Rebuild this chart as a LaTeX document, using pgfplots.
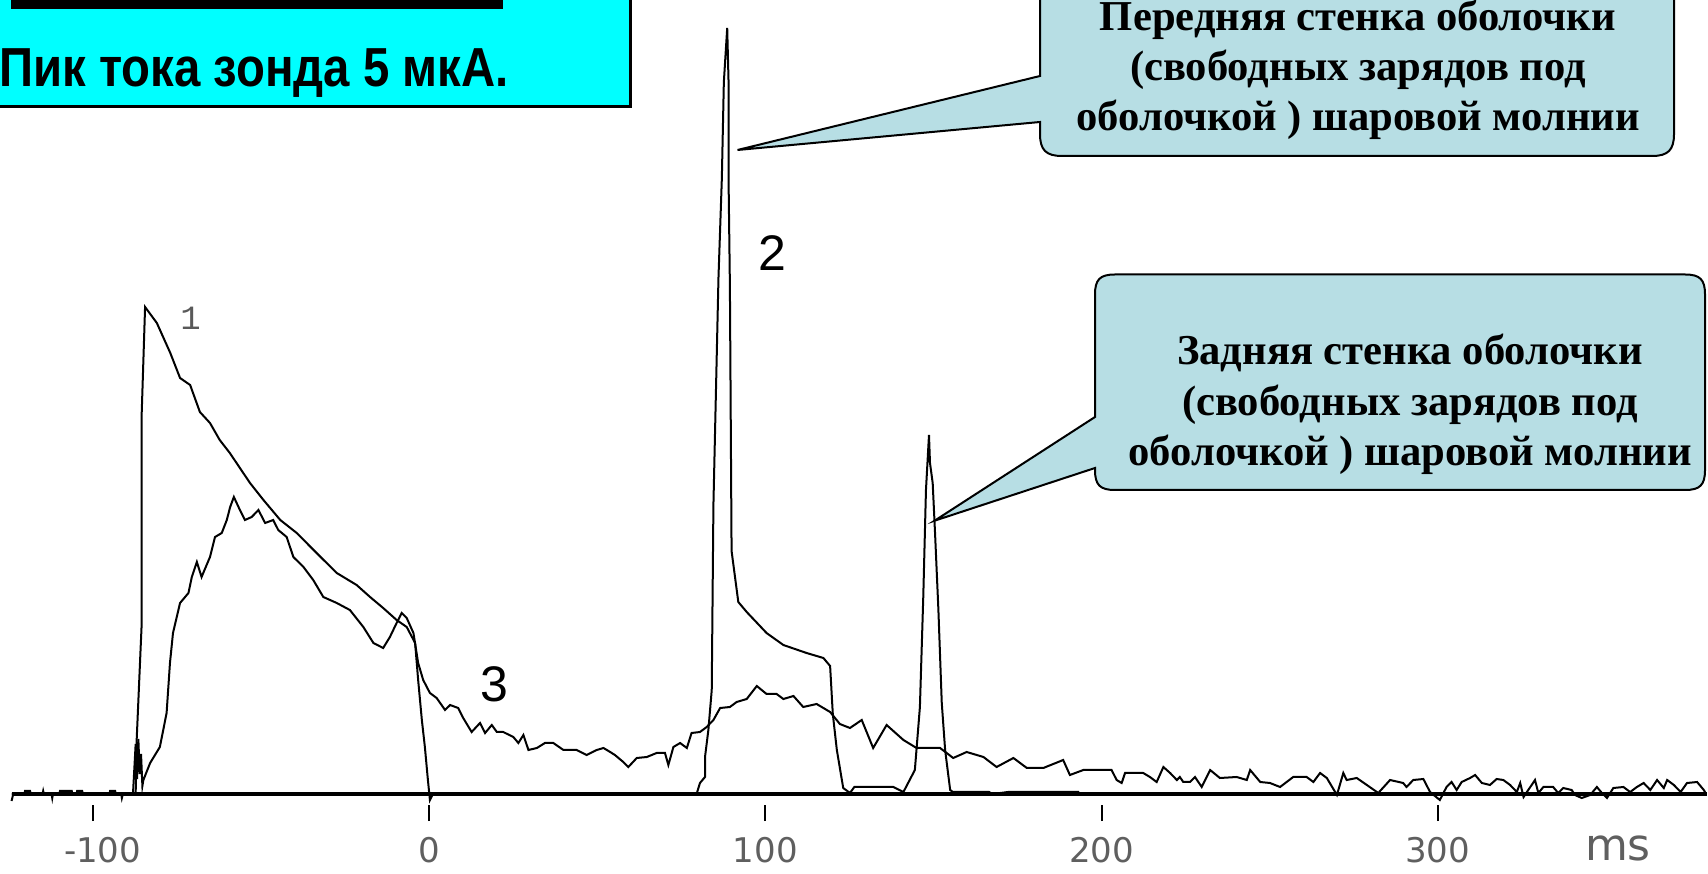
\documentclass[border=0pt]{standalone}
\usepackage{fontspec}
\setmainfont{Liberation Serif}
\newfontfamily\sansfont{Liberation Sans}
\newfontfamily\tickfont{DejaVu Sans}
\newfontfamily\scopefont{Liberation Mono}
\usepackage{pgfplots}
\pgfplotsset{compat=1.18}
\definecolor{calloutfill}{RGB}{183,222,228}
\definecolor{titlecyan}{RGB}{0,255,255}
\definecolor{tickgray}{RGB}{95,95,95}
\begin{document}
\begin{tikzpicture}
\begin{axis}[
  scale only axis, width=854pt, height=436.5pt,
  xmin=-127.54, xmax=380.35, ymin=-79, ymax=794,
  axis x line=middle, axis y line=none,
  x axis line style={draw=none},
  axis x line shift=5.5pt,
  hide obscured x ticks=false,
  xtick={-100,0,100,200,300},
  xticklabels={{\hspace*{10pt}-100},0,100,200,300},
  tick align=outside,
  major tick length=8pt,
  xtick style={black, line width=1pt},
  xticklabel style={font=\tickfont\fontsize{17pt}{20pt}\selectfont, text=tickgray, anchor=center, yshift=-14.5pt},
  ytick=\empty,
  clip=false,
]
% zero line
\addplot[black, line width=1.6pt] coordinates {(-124,0) (380,0)};
% trace 1
\addplot[black, line width=1pt] coordinates {
(-124,0) (-87.2,0) (-86.9,54) (-85.4,171) (-85.4,381) (-84.4,487) (-80.9,471) (-76.9,441) (-74.0,416) (-71.0,409) (-68.1,382) (-65.1,371) (-62.2,354) (-59.2,341) (-55.2,321) (-53.2,311) (-49.2,294) (-44.2,274) (-39.3,261) (-33.4,241) (-27.4,221) (-21.5,209) (-17.5,197) (-13.6,186) (-9.6,174) (-6.6,167) (-4.1,151) (-3.2,114) (-2.1,74) (-1.2,47) (-0.3,14) (0.3,-6) (1.2,0) (380,0)
};
% trace 2
\addplot[black, line width=1pt] coordinates {
(-124,0) (79.6,0) (80.6,11) (82.1,17) (82.1,37) (83.1,64) (84.1,104) (84.6,289) (86.1,516) (87.1,615) (87.7,712) (88.7,766) (89.1,712) (89.1,615) (89.5,508) (90.0,243) (92.0,192) (94.5,182) (100.4,161) (105.4,149) (112.3,141) (117.3,136) (119.3,128) (120.1,80) (121.3,44) (123.2,6) (125.2,1) (126.5,7) (138.1,7) (141.1,2) (144.5,24) (146.0,87) (147.0,197) (147.8,304) (148.7,359) (149.0,331) (149.8,311) (150.5,261) (151.5,184) (152.5,91) (153.5,44) (155.0,4) (155.8,2) (166.6,2) (167.5,0) (172.2,2) (193.1,2) (193.6,0) (380,0)
};
% trace 3
\addplot[black, line width=1pt] coordinates {
(-124.1,-7) (-123.6,0) (-120.3,0) (-120.1,3) (-118.6,3) (-118.4,0) (-114.9,0) (-114.7,3) (-114.5,0) (-112.2,0) (-112,-4) (-111.8,0) (-109.9,0) (-109.7,3) (-106.2,3) (-106,0) (-104.8,0) (-104.6,3) (-103.1,3) (-102.9,0) (-95,0) (-94.8,3) (-93.3,3) (-93.1,0) (-91.5,0) (-91.3,-4) (-91,0) (-88,0)
(-87.6,25) (-87.2,50) (-86.8,15) (-86.4,55) (-86,20) (-85.6,40) (-85.2,8) (-84.9,14)
(-82.9,31) (-80.0,47) (-78.0,81) (-77.0,131) (-76.1,161) (-74.0,191) (-71.5,201) (-70.5,217) (-69.0,232) (-67.6,217) (-65.1,237) (-63.6,257) (-61.6,261) (-60.1,274) (-59.1,287) (-58.0,297) (-56.2,284) (-54.7,274) (-52.7,277) (-50.7,284) (-48.7,271) (-46.3,274) (-44.8,264) (-42.3,257) (-40.3,237) (-37.3,227) (-34.4,214) (-31.4,197) (-27.4,191) (-23.5,184) (-19.5,167) (-16.5,151) (-13.6,146) (-11.6,157) (-9.6,171) (-8.1,181) (-6.6,176) (-4.6,161) (-3.2,131) (-1.7,114) (0.3,101)
(2.3,96) (4.8,84) (6.3,89) (8.7,86) (10.2,76) (12.7,62) (15.2,71) (16.7,61) (18.7,69) (20.2,62) (22.1,62) (25.1,57) (26.6,51) (28.1,59) (29.6,44) (32.1,46) (34.5,51) (37.0,51) (40.0,44) (43.9,44) (46.9,39) (49.9,44) (51.9,46) (53.9,42) (55.3,39) (57.8,32) (59.3,27) (61.8,36) (64.8,37) (67.7,41) (70.2,41) (71.2,29) (72.7,47) (74.7,51) (76.7,46) (78.1,61) (80.6,62) (82.6,67) (84.6,74) (86.6,86) (89.5,87)
(91.5,92) (94.5,95) (97.5,108) (100.4,100) (103.4,100) (105.4,95) (108.4,98) (111.3,87) (115.3,90) (119.3,82) (122.2,70) (125.2,66)
(128.7,74) (132.1,46) (136.1,69) (141.1,54) (145.0,46) (152.0,46) (155.9,36) (159.9,42) (164.9,37) (168.8,27) (173.8,36) (177.8,26) (182.7,26) (188.6,34) (190.6,19) (194.6,24)
(200.5,24) (203.0,24) (204.5,14) (206.0,11) (207.0,21) (212.4,21) (214.4,17) (216.4,12) (218.4,27) (220.4,21) (222.4,14) (223.3,17) (224.3,12) (226.3,12) (227.8,17) (229.8,7) (232.3,24) (235.2,16) (240.2,17) (243.2,14) (244.2,24) (247.2,12) (250.1,11) (253.1,7) (257.0,17) (261.0,17) (263.0,12) (265.0,21) (267.0,16) (270.0,-1) (271.9,21) (272.9,14) (275.9,16) (278.9,9) (282.3,1) (285.8,14)
(289.7,11) (290.7,7) (292.7,14) (295.7,15) (297.7,2) (300.6,-6) (302.6,7) (304.1,12) (305.6,4) (307.1,12) (309.6,16) (311.1,19) (313.1,11) (315.5,9) (317.5,15) (319.5,14) (321.5,9) (323.5,2) (324.5,11) (325.5,-3) (327.9,9) (328.9,14) (329.9,1) (331.4,7) (334.3,7) (335.8,1) (337.3,6) (339.8,4) (340.8,-1) (342.8,-4) (345.3,-1) (347.3,7) (348.8,1) (350.3,-4) (352.2,6) (355.2,7) (357.2,2) (359.2,7) (361.2,11) (363.2,4) (365.2,14) (367.2,6) (368.2,14) (370.2,9) (372.2,2) (374.1,11) (377.1,12) (379.1,4) (379.6,1)
};
\end{axis}
\begin{scope}[yshift=436.5pt, x=0.5pt, y=-0.5pt]
% title box
\filldraw[fill=titlecyan, draw=black, line width=1.5pt] (-20,-20) rectangle (630,107);
\fill[black] (11,-5) rectangle (503,9);
\node[anchor=base east, inner sep=0, font=\sansfont\bfseries\fontsize{27.5pt}{32pt}\selectfont] at (509,87) {\scalebox{0.86}[1]{Пик тока зонда 5 мкА.}};
% callout 1
\filldraw[fill=calloutfill, draw=black, line width=1pt] (1040,-40) -- (1040,76) -- (737.5,150) -- (1040,122) -- (1040,134) .. controls (1040,150) and (1046,156) .. (1062,156) -- (1652,156) .. controls (1668,156) and (1674,150) .. (1674,134) -- (1674,-40) -- cycle;
\begin{scope}[every node/.style={anchor=base, inner sep=0, font=\bfseries\fontsize{21.3pt}{25pt}\selectfont}]
\node at (1358,30.5) {Передняя стенка оболочки};
\node at (1358,81) {(свободных зарядов под};
\node at (1358,131) {оболочкой ) шаровой молнии};
\end{scope}
% callout 2
\filldraw[fill=calloutfill, draw=black, line width=1pt] (1115,274.5) -- (1685,274.5) .. controls (1700,274.5) and (1705,279.5) .. (1705,294.5) -- (1705,470) .. controls (1705,485) and (1700,490) .. (1685,490) -- (1115,490) .. controls (1100,490) and (1095,485) .. (1095,470) -- (1095,468) -- (934.6,520.7) -- (1095,417) -- (1095,294.5) .. controls (1095,279.5) and (1100,274.5) .. (1115,274.5) -- cycle;
\begin{scope}[every node/.style={anchor=base, inner sep=0, font=\bfseries\fontsize{21.3pt}{25pt}\selectfont}]
\node at (1410,365) {Задняя стенка оболочки};
\node at (1410,416) {(свободных зарядов под};
\node at (1410,466) {оболочкой ) шаровой молнии};
\end{scope}
% trace labels
\node[inner sep=0, font=\scopefont\fontsize{17pt}{20pt}\selectfont, text=black!65] at (190.6,318) {1};
\node[inner sep=0, font=\sansfont\fontsize{25pt}{30pt}\selectfont] at (772,253) {2};
\node[inner sep=0, font=\sansfont\fontsize{25pt}{30pt}\selectfont] at (494.5,684) {3};
\node[inner sep=0, font=\tickfont\fontsize{22pt}{26pt}\selectfont, text=tickgray] at (1618,848) {ms};
\end{scope}
\pgfresetboundingbox
\path (0,0) rectangle (854pt,436.5pt);
\end{tikzpicture}
\end{document}
